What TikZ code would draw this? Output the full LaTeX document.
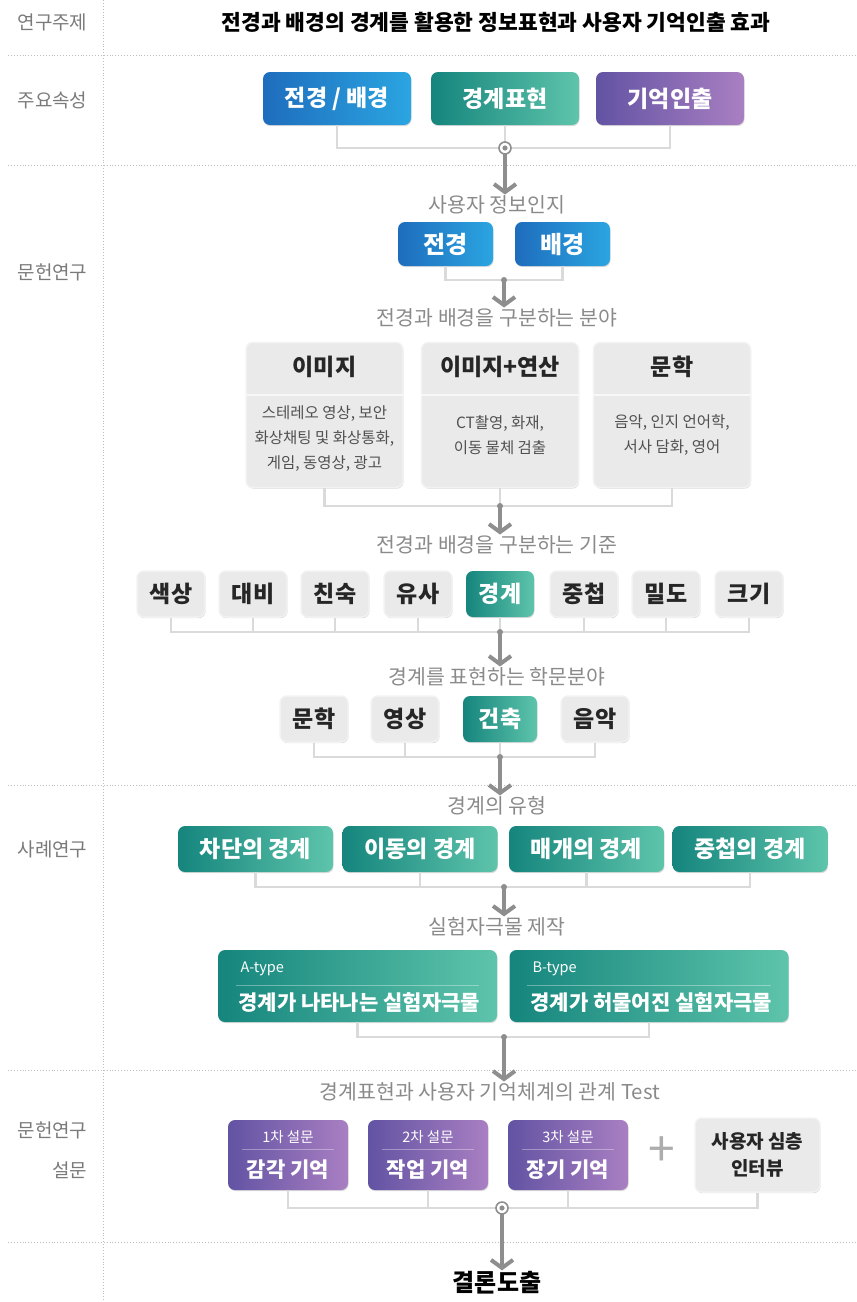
\documentclass[tikz,border=0pt]{standalone}
\usepackage{fontspec}
\setmainfont{Noto Sans CJK KR}
\usetikzlibrary{arrows.meta,shadows,calc}
\definecolor{blueL}{HTML}{1E6DBD}
\definecolor{blueR}{HTML}{2BA5E1}
\definecolor{tealL}{HTML}{15857D}
\definecolor{tealR}{HTML}{5EC4AB}
\definecolor{purL}{HTML}{6253A3}
\definecolor{purR}{HTML}{A97FC2}
\definecolor{boxgray}{HTML}{EAEAEA}
\definecolor{capgray}{HTML}{8A8A8A}
\definecolor{labgray}{HTML}{7A7A7A}
\definecolor{busgray}{HTML}{DADADA}
\definecolor{arrgray}{HTML}{8E8E8E}
\definecolor{sepgray}{HTML}{BDBDBD}
\definecolor{darktext}{HTML}{262626}
\definecolor{bodytext}{HTML}{505050}
\begin{document}
\begin{tikzpicture}[x=1pt,y=-1pt,
  fs/.style={font=\fontsize{#1}{24}\selectfont},
  base/.style={rounded corners=7pt, inner sep=0pt, align=center,
    drop shadow={shadow xshift=0.6pt, shadow yshift=-1.2pt, opacity=0.28}},
  bluebox/.style={base, left color=blueL, right color=blueR, text=white},
  tealbox/.style={base, left color=tealL, right color=tealR, text=white},
  purbox/.style={base, left color=purL, right color=purR, text=white},
  graybox/.style={base, fill=boxgray, draw=black!5, line width=1.5pt, text=darktext,
    drop shadow={shadow xshift=0.4pt, shadow yshift=-0.8pt, opacity=0.12}},
  sidelabel/.style={anchor=east, text=labgray, fs=19},
  caption/.style={text=capgray, fs=20.5, inner sep=1pt},
  sep/.style={draw=sepgray, dotted, line width=0.9pt},
  bus/.style={draw=busgray, line width=2.4pt},
  arr/.style={draw=arrgray, line width=4pt, -{Straight Barb[length=8pt,width=22pt]}},
  jdot/.style={fill=arrgray},
]
\useasboundingbox (0,0) rectangle (857,1302);

% separators
\draw[sep] (8,55) -- (857,55);
\draw[sep] (8,165) -- (857,165);
\draw[sep] (8,785) -- (857,785);
\draw[sep] (8,1070) -- (857,1070);
\draw[sep] (8,1242) -- (857,1242);
\draw[sep] (103,0) -- (103,1302);

% side labels
\node[sidelabel] (l1) at (91,22) {연구주제};
\node[sidelabel] (l2) at (91,100) {주요속성};
\node[sidelabel] (l3) at (91,272) {문헌연구};
\node[sidelabel] (l4) at (91,849) {사례연구};
\node[sidelabel] (l5) at (91,1130) {문헌연구};
\node[sidelabel] (l6) at (91,1170) {설문};

% title
\node[text=black, font=\bfseries\fontsize{21.5}{26}\selectfont] (title) at (496,22) {전경과 배경의 경계를 활용한 정보표현과 사용자 기억인출 효과};

% main attributes
\tikzset{topb/.style={minimum width=148pt, minimum height=53pt, font=\bfseries\fontsize{23}{27}\selectfont}}
\node[bluebox, topb] (a1) at (337,98.5) {전경 / 배경};
\node[tealbox, topb] (a2) at (505,98.5) {경계표현};
\node[purbox, topb] (a3) at (670,98.5) {기억인출};
\coordinate (j1) at (505,148);
\draw[bus] (a1.south) |- (j1) -| (a3.south);
\draw[bus] (a2.south) -- (j1);

\node[caption] (c1) at (497,205) {사용자 정보인지};
\draw[arr, shorten <=6pt] (j1) -- (j1 |- c1.north);
\draw[arrgray, line width=1.6pt, fill=white] (j1) circle (6pt);
\fill[jdot] (j1) circle (2.6pt);

% foreground / background
\tikzset{fbb/.style={minimum width=95pt, minimum height=44pt, font=\bfseries\fontsize{24}{28}\selectfont}}
\node[bluebox, fbb] (f1) at (445.5,244) {전경};
\node[bluebox, fbb] (f2) at (562.5,244) {배경};
\coordinate (j2) at (504,280);
\draw[bus] (f1.south) |- (j2) -| (f2.south);
\node[caption] (c2) at (497,318) {전경과 배경을 구분하는 분야};
\draw[arr] (j2) -- (j2 |- c2.north);
\fill[jdot] (j2) circle (3pt);

% fields
\tikzset{fieldb/.style={graybox, minimum width=157pt, minimum height=145pt},
  fhead/.style={text=darktext, font=\bfseries\fontsize{23}{27}\selectfont},
  fbody/.style={text=bodytext, align=center, font=\fontsize{15.5}{25}\selectfont}}
\node[fieldb] (g1) at (324.5,415) {};
\node[fieldb] (g2) at (500,415) {};
\node[fieldb] (g3) at (672,415) {};
\foreach \g in {g1,g2,g3}{
  \draw[white!97!black, line width=1.5pt] (\g.west |- 0,395) -- (\g.east |- 0,395);
}
\node[fhead] (h1) at (324.5,367) {이미지};
\node[fhead] (h2) at (500,367) {이미지+연산};
\node[fhead] (h3) at (672,367) {문학};
\node[fbody] (t1) at (324.5,439) {스테레오 영상, 보안\\화상채팅 및 화상통화,\\게임, 동영상, 광고};
\node[fbody] (t2) at (500,435) {CT촬영, 화재,\\이동 물체 검출};
\node[fbody] (t3) at (672,435) {음악, 인지 언어학,\\서사 담화, 영어};
\coordinate (j3) at (500,506);
\draw[bus] (g1.south) |- (j3) -| (g3.south);
\draw[bus] (g2.south) -- (j3);
\node[caption] (c3) at (497,545) {전경과 배경을 구분하는 기준};
\draw[arr] (j3) -- (j3 |- c3.north);
\fill[jdot] (j3) circle (3pt);

% criteria
\tikzset{critb/.style={minimum width=68pt, minimum height=46pt, font=\bfseries\fontsize{23}{27}\selectfont}}
\node[graybox, critb] (k1) at (171,594) {색상};
\node[graybox, critb] (k2) at (253,594) {대비};
\node[graybox, critb] (k3) at (335,594) {친숙};
\node[graybox, critb] (k4) at (418,594) {유사};
\node[tealbox, critb] (k5) at (500,594) {경계};
\node[graybox, critb] (k6) at (584,594) {중첩};
\node[graybox, critb] (k7) at (666,594) {밀도};
\node[graybox, critb] (k8) at (749,594) {크기};
\coordinate (j4) at (500,632);
\draw[bus] (k1.south) |- (j4) -| (k8.south);
\foreach \k in {k2,k3,k4,k5,k6,k7}{\draw[bus] (\k.south) -- (\k.south |- j4);}
\node[caption] (c4) at (497,677) {경계를 표현하는 학문분야};
\draw[arr] (j4) -- (j4 |- c4.north);
\fill[jdot] (j4) circle (3pt);

% disciplines
\node[graybox, critb] (d1) at (314,719) {문학};
\node[graybox, critb] (d2) at (405,719) {영상};
\node[tealbox, critb, minimum width=74pt] (d3) at (500,719) {건축};
\node[graybox, critb] (d4) at (595,719) {음악};
\coordinate (j5) at (500,757);
\draw[bus] (d1.south) |- (j5) -| (d4.south);
\draw[bus] (d2.south) -- (d2.south |- j5);
\draw[bus] (d3.south) -- (j5);
\node[caption] (c5) at (497,806) {경계의 유형};
\draw[arr] (j5) -- (j5 |- c5.north);
\fill[jdot] (j5) circle (3pt);

% boundary types
\tikzset{typeb/.style={tealbox, minimum width=155pt, minimum height=46pt, font=\bfseries\fontsize{23}{27}\selectfont}}
\node[typeb] (y1) at (255.5,849) {차단의 경계};
\node[typeb] (y2) at (420,849) {이동의 경계};
\node[typeb] (y3) at (586.5,849) {매개의 경계};
\node[typeb] (y4) at (750,849) {중첩의 경계};
\coordinate (j6) at (504,887);
\draw[bus] (y1.south) |- (j6) -| (y4.south);
\draw[bus] (y2.south) -- (y2.south |- j6);
\draw[bus] (y3.south) -- (y3.south |- j6);
\node[caption] (c6) at (497,927) {실험자극물 제작};
\draw[arr] (j6) -- (j6 |- c6.north);
\fill[jdot] (j6) circle (3pt);

% stimuli
\tikzset{stimb/.style={tealbox, minimum width=279pt, minimum height=72pt},
  stimsmall/.style={anchor=west, text=white, font=\fontsize{14.5}{17}\selectfont},
  stimbig/.style={anchor=west, text=white, font=\bfseries\fontsize{21}{25}\selectfont}}
\node[stimb] (s1) at (357.5,986) {};
\node[stimb] (s2) at (649,986) {};
\node[stimsmall] (s1a) at (237,969) {A-type};
\node[stimsmall] (s2a) at (529,969) {B-type};
\draw[white, opacity=0.35, line width=1pt] ($(s1.west)+(18,-1)$) -- ($(s1.east)+(-18,-1)$);
\draw[white, opacity=0.35, line width=1pt] ($(s2.west)+(18,-1)$) -- ($(s2.east)+(-18,-1)$);
\node[stimbig] (s1b) at (235,1003) {경계가 나타나는 실험자극물};
\node[stimbig] (s2b) at (527,1003) {경계가 허물어진 실험자극물};
\coordinate (j7) at (504,1037);
\draw[bus] (s1.south) |- (j7) -| (s2.south);
\node[caption] (c7) at (490,1092) {경계표현과 사용자 기억체계의 관계 Test};
\draw[arr] (j7) -- (j7 |- c7.north);
\fill[jdot] (j7) circle (3pt);

% surveys
\tikzset{survb/.style={purbox, minimum width=120pt, minimum height=70pt},
  survsmall/.style={text=white, font=\fontsize{14.5}{17}\selectfont},
  survbig/.style={text=white, font=\bfseries\fontsize{21}{25}\selectfont}}
\node[survb] (v1) at (288,1155) {};
\node[survb] (v2) at (428,1155) {};
\node[survb] (v3) at (568,1155) {};
\foreach \v/\n/\m in {v1/1차 설문/감각 기억, v2/2차 설문/작업 기억, v3/3차 설문/장기 기억}{
  \node[survsmall] (\v a) at ($(\v.center)+(0,-18)$) {\n};
  \draw[white, opacity=0.35, line width=1pt] ($(\v.west)+(14,-6)$) -- ($(\v.east)+(-14,-6)$);
  \node[survbig] (\v b) at ($(\v.center)+(0,15)$) {\m};
}
\node[text=black!32, font=\fontsize{48}{52}\selectfont, inner sep=0pt] (plus) at (662,1152) {+};
\node[graybox, minimum width=125pt, minimum height=74pt, font=\bfseries\fontsize{19}{27}\selectfont] (v4) at (757.5,1155) {사용자 심층\\인터뷰};
\coordinate (j8) at (502,1208);
\draw[bus] (v1.south) |- (j8) -| (v4.south);
\draw[bus] (v2.south) -- (v2.south |- j8);
\draw[bus] (v3.south) -- (v3.south |- j8);
\node[text=black, font=\bfseries\fontsize{24}{28}\selectfont, inner sep=1pt] (end) at (497,1283) {결론도출};
\draw[arr, shorten <=6pt] (j8) -- (j8 |- end.north);
\draw[arrgray, line width=1.6pt, fill=white] (j8) circle (6pt);
\fill[jdot] (j8) circle (2.6pt);
\end{tikzpicture}
\end{document}
